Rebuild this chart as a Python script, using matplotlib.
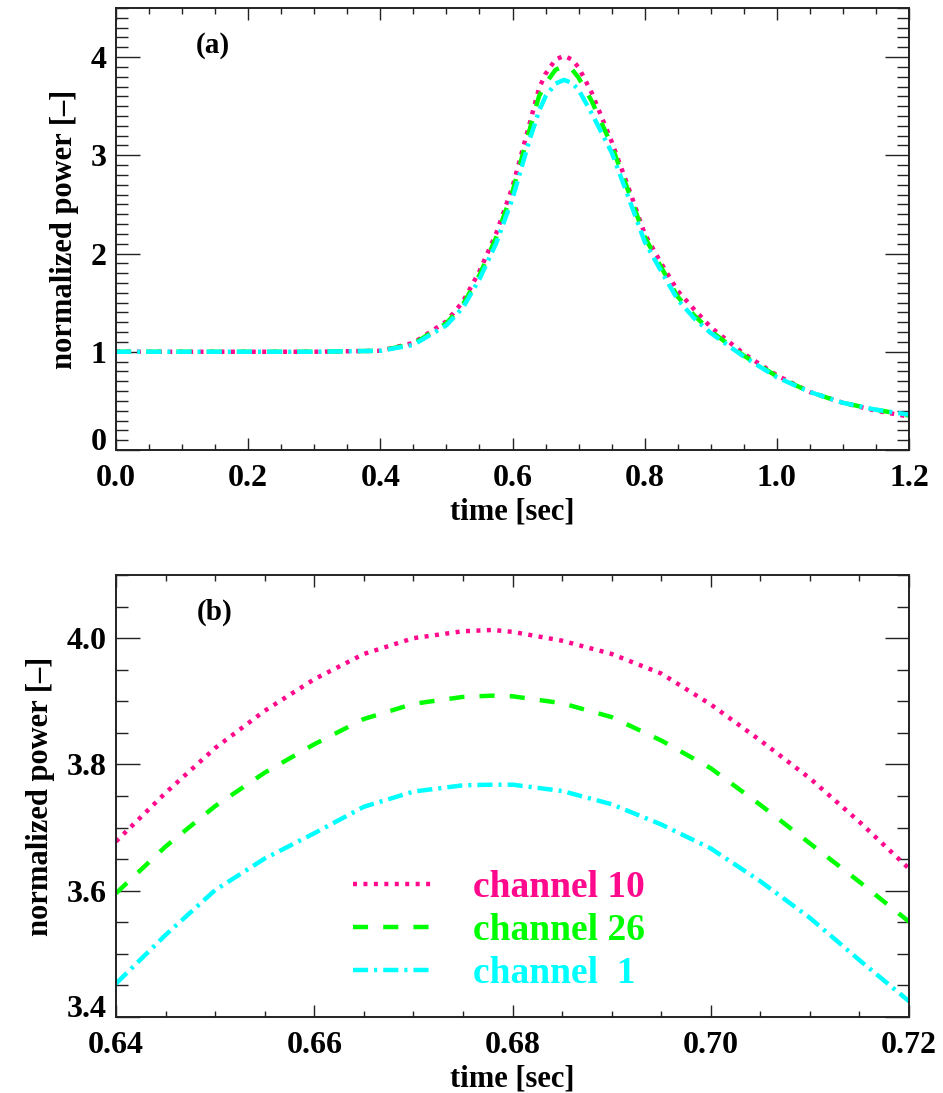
import matplotlib
matplotlib.use("Agg")
import matplotlib.pyplot as plt
from matplotlib.ticker import MultipleLocator, FormatStrFormatter

# panel (a): full pulse
time_a = [0.0, 0.1, 0.2, 0.3, 0.4, 0.45, 0.5, 0.525, 0.55, 0.575, 0.6, 0.625, 0.64, 0.65,
          0.665, 0.678, 0.69, 0.7, 0.72, 0.75, 0.775, 0.8, 0.825, 0.85, 0.875, 0.9, 0.95,
          1.0, 1.05, 1.1, 1.15, 1.2]
ch10_a = [1.00, 1.00, 1.00, 1.00, 1.01, 1.09, 1.31, 1.51, 1.82, 2.20, 2.68, 3.30, 3.68, 3.83,
          3.975, 4.013, 3.975, 3.895, 3.635, 3.14, 2.68, 2.20, 1.90, 1.62, 1.43, 1.25, 0.98,
          0.76, 0.59, 0.48, 0.40, 0.34]
ch26_a = [1.00, 1.00, 1.00, 1.00, 1.01, 1.08, 1.29, 1.48, 1.78, 2.16, 2.63, 3.24, 3.60, 3.73,
          3.87, 3.91, 3.875, 3.79, 3.55, 3.10, 2.64, 2.17, 1.86, 1.56, 1.37, 1.21, 0.96,
          0.75, 0.59, 0.48, 0.41, 0.35]
ch1_a = [1.00, 1.00, 1.00, 1.00, 1.01, 1.07, 1.27, 1.45, 1.74, 2.10, 2.56, 3.14, 3.45, 3.60,
         3.73, 3.768, 3.737, 3.667, 3.425, 3.03, 2.58, 2.12, 1.82, 1.53, 1.34, 1.19, 0.95,
         0.74, 0.59, 0.48, 0.41, 0.36]

# panel (b): zoom on the peak
time_b = [0.640, 0.645, 0.650, 0.655, 0.660, 0.665, 0.670, 0.675, 0.678, 0.680, 0.685,
          0.690, 0.695, 0.700, 0.705, 0.710, 0.715, 0.720]
ch10_b = [3.678, 3.755, 3.826, 3.885, 3.935, 3.975, 4.000, 4.011, 4.013, 4.010, 3.996,
          3.975, 3.944, 3.895, 3.838, 3.778, 3.709, 3.635]
ch26_b = [3.596, 3.670, 3.734, 3.787, 3.832, 3.872, 3.896, 3.907, 3.909, 3.908, 3.897,
          3.875, 3.838, 3.794, 3.736, 3.675, 3.614, 3.551]
ch1_b = [3.453, 3.530, 3.601, 3.651, 3.691, 3.733, 3.757, 3.767, 3.768, 3.768, 3.758,
         3.737, 3.705, 3.667, 3.615, 3.557, 3.490, 3.425]

labels = ["channel 10", "channel 26", "channel  1"]
colors = ["#ff0a8c", "#00ff00", "#00ffff"]
styles = [(0, (0.9, 1.45)), (0, (3.4, 3.4)), (0, (3.4, 1.35, 0.7, 1.35))]
LW = 3.2

plt.rcParams["font.family"] = ["Liberation Serif", "DejaVu Serif"]
plt.rcParams["font.weight"] = "bold"
plt.rcParams["axes.labelweight"] = "bold"


def style_axes(ax):
    for sp in ax.spines.values():
        sp.set_linewidth(1.4)
        sp.set_color("#222222")
    ax.tick_params(which="both", direction="in", top=True, right=True,
                   width=1.0, color="#222222", labelsize=23)
    ax.tick_params(axis="x", which="major", length=8.6, pad=10)
    ax.tick_params(axis="x", which="minor", length=4.3)
    ax.tick_params(axis="y", which="major", length=17.3, pad=7)
    ax.tick_params(axis="y", which="minor", length=8.6)
    ax.set_xlabel("time [sec]", fontsize=22, labelpad=3)
    ax.set_ylabel("normalized power [\u2013]", fontsize=22, labelpad=8)


def lift_bottom_label(ax):
    # lowest y label sits on the axis line instead of centred on it
    ymin = ax.get_ylim()[0]
    locs = ax.yaxis.get_majorticklocs()
    ticks = ax.yaxis.get_major_ticks(len(locs))
    for loc, tick in zip(locs, ticks):
        if abs(loc - ymin) < 1e-9:
            tick.label1.set_verticalalignment("baseline")


fig = plt.figure(figsize=(9.43, 10.93), dpi=100)

ax1 = fig.add_axes([0.123, 0.5883, 0.841, 0.4044])
for y, c, ls in zip([ch10_a, ch26_a, ch1_a], colors, styles):
    ax1.plot(time_a, y, color=c, linestyle=ls, linewidth=LW)
ax1.set_xlim(0, 1.2)
ax1.set_ylim(0, 4.5)
ax1.xaxis.set_major_locator(MultipleLocator(0.2))
ax1.xaxis.set_minor_locator(MultipleLocator(0.05))
ax1.xaxis.set_major_formatter(FormatStrFormatter("%.1f"))
ax1.yaxis.set_major_locator(MultipleLocator(1))
ax1.yaxis.set_minor_locator(MultipleLocator(0.1))
style_axes(ax1)
lift_bottom_label(ax1)
ax1.text(0.122, 0.914, "(a)", transform=ax1.transAxes, fontsize=21,
         ha="center", va="center")

ax2 = fig.add_axes([0.123, 0.0695, 0.841, 0.4044])
for y, c, ls, lab in zip([ch10_b, ch26_b, ch1_b], colors, styles, labels):
    ax2.plot(time_b, y, color=c, linestyle=ls, linewidth=LW, label=lab)
ax2.set_xlim(0.64, 0.72)
ax2.set_ylim(3.4, 4.1)
ax2.xaxis.set_major_locator(MultipleLocator(0.02))
ax2.xaxis.set_minor_locator(MultipleLocator(0.005))
ax2.xaxis.set_major_formatter(FormatStrFormatter("%.2f"))
ax2.yaxis.set_major_locator(MultipleLocator(0.2))
ax2.yaxis.set_minor_locator(MultipleLocator(0.05))
ax2.yaxis.set_major_formatter(FormatStrFormatter("%.1f"))
style_axes(ax2)
lift_bottom_label(ax2)
ax2.text(0.124, 0.916, "(b)", transform=ax2.transAxes, fontsize=21,
         ha="center", va="center")

leg = ax2.legend(loc="upper left", bbox_to_anchor=(0.299, 0.333), frameon=False,
                 fontsize=27, handlelength=2.13, handletextpad=1.07,
                 labelspacing=0.22, borderpad=0, borderaxespad=0)
for txt, c in zip(leg.get_texts(), colors):
    txt.set_color(c)

fig.savefig("out.png", dpi=100)
